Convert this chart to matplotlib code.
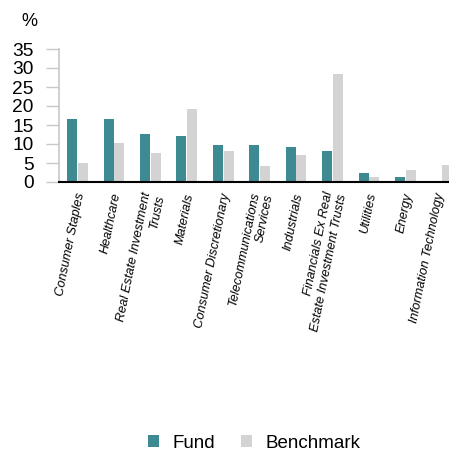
import matplotlib
matplotlib.use("Agg")
import matplotlib.pyplot as plt
import matplotlib.transforms as mtransforms
import numpy as np
from matplotlib.patches import Patch

categories = ["Consumer Staples", "Healthcare", "Real Estate Investment\nTrusts",
              "Materials", "Consumer Discretionary", "Telecommunications\nServices",
              "Industrials", "Financials Ex Real\nEstate Investment Trusts",
              "Utilities", "Energy", "Information Technology"]
fund = [16.7, 16.7, 12.7, 12.1, 9.7, 9.7, 9.2, 8.2, 2.4, 1.4, 0.0]
benchmark = [4.9, 10.3, 7.6, 19.2, 8.2, 4.3, 7.2, 28.3, 1.2, 3.2, 4.5]
yticks = [0, 5, 10, 15, 20, 25, 30, 35]

plt.rcParams['font.family'] = ['Liberation Sans', 'DejaVu Sans']
fund_color = "#3d8a92"
bench_color = "#d3d3d4"

fig = plt.figure(figsize=(4.49, 4.5), dpi=100)
W, H = 449, 450
ax = fig.add_axes([59 / W, (H - 182) / H, (449 - 59) / W, (182 - 49) / H])

x = np.arange(len(categories))
bw = 0.275
ax.bar(x - 0.147, fund, width=bw, color=fund_color, zorder=2)
ax.bar(x + 0.147, benchmark, width=bw, color=bench_color, zorder=2)

ax.set_xlim(-0.508, 10.2)
ax.set_ylim(0, 35)
ax.set_yticks(yticks)
ax.set_yticklabels([str(t) for t in yticks], fontsize=13.8)
ax.tick_params(axis='y', length=9.4, color="#c8c8c8", width=1, pad=9)
ax.set_xticks(x)
ax.set_xticklabels(categories, rotation=78.5, ha='right', rotation_mode='anchor',
                   fontsize=9.2, style='italic', multialignment='right', va='center')
ax.tick_params(axis='x', length=0, pad=8)
labels = ax.get_xticklabels()
for i, lab in enumerate(labels):
    dx = 3.5 if i < len(labels) - 1 else -1.5
    offset = mtransforms.ScaledTranslation(dx / 100, 0, fig.dpi_scale_trans)
    lab.set_transform(lab.get_transform() + offset)

for s in ['top', 'right']:
    ax.spines[s].set_visible(False)
ax.spines['left'].set_color("#c8c8c8")
ax.spines['left'].set_linewidth(1.2)
ax.spines['bottom'].set_color("black")
ax.spines['bottom'].set_linewidth(1.5)
ax.spines['bottom'].set_zorder(3)

fig.text(21 / W, 1 - 22 / H, "%", fontsize=13, ha='left', va='center')

handles = [Patch(facecolor=fund_color, label="Fund"),
           Patch(facecolor=bench_color, label="Benchmark")]
fig.legend(handles=handles, loc='center', bbox_to_anchor=(254 / W, 1 - 443 / H),
           ncol=2, frameon=False, fontsize=13.5, handlelength=0.6, handleheight=0.6,
           handletextpad=0.7, columnspacing=1.4)

fig.savefig("out.png", dpi=100)
